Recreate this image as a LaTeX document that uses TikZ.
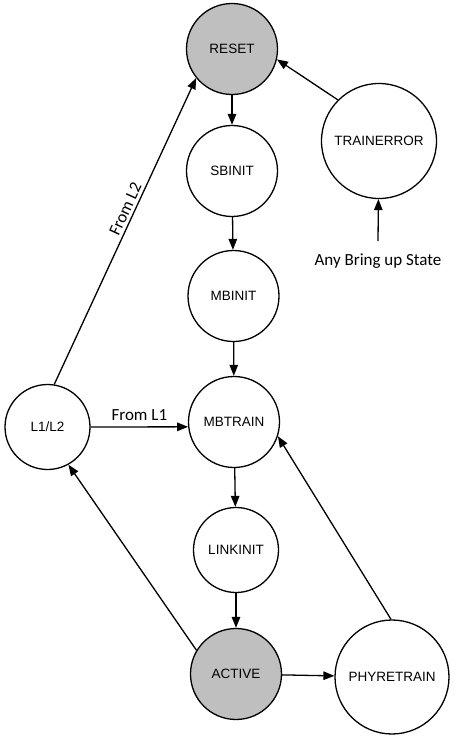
\documentclass[tikz,border=0pt]{standalone}
\usepackage{fontspec}
\setmainfont{Carlito}
\newfontfamily\arialf{Liberation Sans}
\usetikzlibrary{arrows.meta}
\definecolor{fillgray}{HTML}{BFBFBF}
\begin{document}
\begin{tikzpicture}[x=1pt,y=-1pt,
  state/.style={circle,draw,line width=1.3pt,inner sep=0pt,font=\arialf\fontsize{13.5}{16}\selectfont},
  grayst/.style={state,fill=fillgray},
  conn/.style={line width=1.3pt,-{Triangle[length=11pt,width=8.5pt]}},
  lbl/.style={font=\fontsize{17}{20}\selectfont}]
\useasboundingbox (0,0) rectangle (454,738);
\node[grayst,minimum size=91pt] (reset) at (232,49) {RESET};
\node[state,minimum size=91pt] (sbinit) at (232,171) {SBINIT};
\node[state,minimum size=91pt] (mbinit) at (233.5,296) {MBINIT};
\node[state,minimum size=91pt] (mbtrain) at (234,422) {MBTRAIN};
\node[state,minimum size=85pt] (linkinit) at (236,550) {LINKINIT};
\node[grayst,minimum size=91pt] (active) at (236,674) {ACTIVE};
\node[state,minimum size=114pt] (phy) at (392,677) {PHYRETRAIN};
\node[state,minimum size=115pt] (trainerr) at (379,141) {TRAINERROR};
\node[state,minimum size=85pt] (l12) at (47.5,427) {L1/L2};
\node[lbl] (any) at (378,261) {Any Bring up State};
\coordinate (anytop) at (378,241);

\draw[conn] (reset) -- (sbinit);
\draw[conn] (sbinit) -- (mbinit);
\draw[conn] (mbinit) -- (mbtrain);
\draw[conn] (mbtrain) -- (linkinit);
\draw[conn] (linkinit) -- (active);
\draw[conn] (active) -- (phy);
\draw[conn] (phy.91) -- (mbtrain.-18);
\draw[conn] (active.149) -- (l12.-61);
\draw[conn] (l12.81) -- node[lbl,sloped,above,pos=0.56,inner sep=3pt] {From L2} (reset.219);
\draw[conn] (trainerr.135) -- (reset.-13.5);
\draw[conn] (anytop) -- (trainerr);
\draw[conn] (l12.east) -- node[lbl,above,midway,inner sep=6pt] {From L1} (mbtrain.186);
\end{tikzpicture}
\end{document}
